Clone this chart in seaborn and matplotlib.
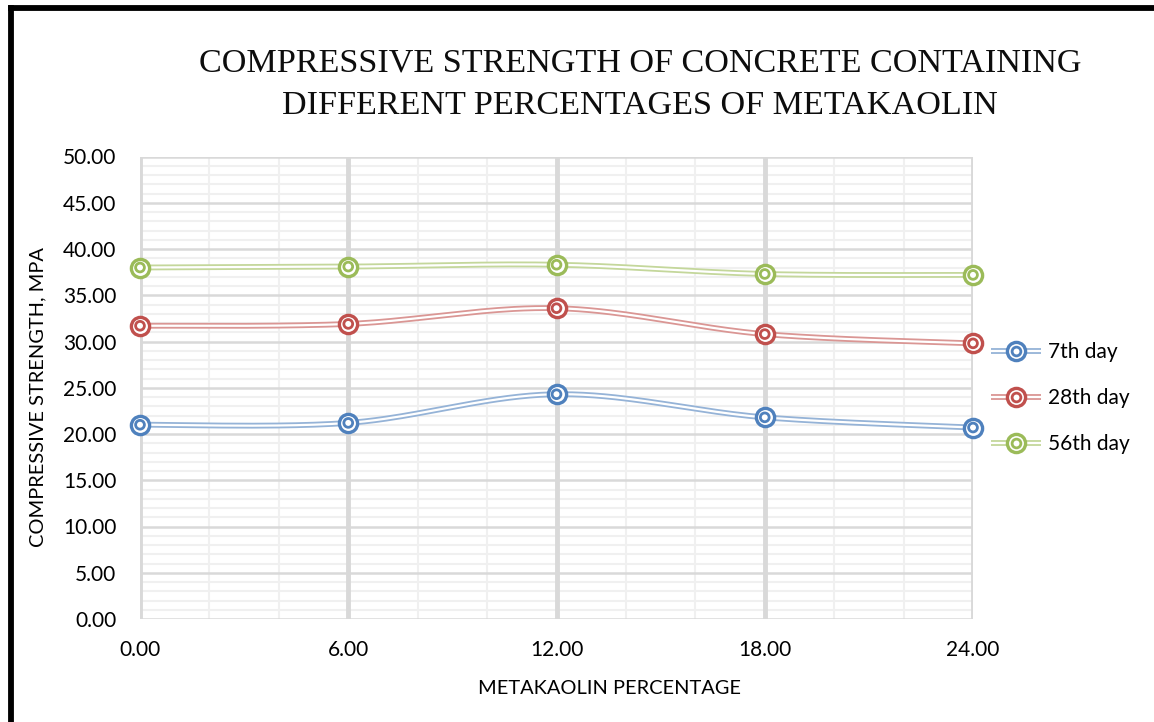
import numpy as np
import pandas as pd
import matplotlib
matplotlib.use("Agg")
import matplotlib.pyplot as plt
from matplotlib.lines import Line2D
from matplotlib.legend_handler import HandlerTuple
import seaborn as sns

# Metakaolin replacement (%) and compressive strength (MPa)
metakaolin = [0.0, 6.0, 12.0, 18.0, 24.0]
day7 = [21.0, 21.2, 24.3, 21.8, 20.7]
day28 = [31.7, 31.9, 33.6, 30.8, 29.8]
day56 = [38.0, 38.1, 38.3, 37.3, 37.2]
series_names = ["7th day", "28th day", "56th day"]
x_ticks = [0, 6, 12, 18, 24]
y_ticks = list(range(0, 51, 5))

marker_colors = ["#4F81BD", "#C0504D", "#9BBB59"]
line_colors = ["#95B3D7", "#DA9694", "#C4D79B"]

df = pd.DataFrame({
    "pct": metakaolin * 3,
    "strength": day7 + day28 + day56,
    "age": sum([[n] * len(metakaolin) for n in series_names], []),
})

sns.set_style("white")
plt.rcParams["font.family"] = ["Lato", "DejaVu Sans"]
plt.rcParams["text.color"] = "black"
plt.rcParams["axes.labelcolor"] = "black"


def smooth_curve(xs, ys, n=40):
    """Bezier smoothing through the points (Catmull-Rom style tangents)."""
    pts = np.column_stack([xs, ys]).astype(float)
    out = []
    for i in range(len(pts) - 1):
        p0 = pts[i - 1] if i > 0 else pts[i]
        p1 = pts[i]
        p2 = pts[i + 1]
        p3 = pts[i + 2] if i + 2 < len(pts) else pts[i + 1]
        c1 = p1 + (p2 - p0) / 6.0
        c2 = p2 - (p3 - p1) / 6.0
        t = np.linspace(0, 1, n)[:, None]
        seg = ((1 - t) ** 3) * p1 + 3 * ((1 - t) ** 2) * t * c1 + 3 * (1 - t) * t ** 2 * c2 + t ** 3 * p2
        out.append(seg if i == 0 else seg[1:])
    seg = np.vstack(out)
    return seg[:, 0], seg[:, 1]


fig = plt.figure(figsize=(11.54, 7.22), dpi=100)
ax = fig.add_axes([140 / 1154, 1 - 619 / 722, (973 - 140) / 1154, (619 - 156.5) / 722])

# outer frame on the left and top
fig.add_artist(Line2D([10.5 / 1154, 10.5 / 1154], [0, 1 - 8 / 722], color="black", lw=4.2,
                      transform=fig.transFigure, solid_capstyle="projecting"))
fig.add_artist(Line2D([10.5 / 1154, 1], [1 - 8 / 722, 1 - 8 / 722], color="black", lw=4.2,
                      transform=fig.transFigure, solid_capstyle="projecting"))

ax.set_xlim(0, 24)
ax.set_ylim(0, 50)

# grid
for v in np.arange(0, 51, 1):
    major = v % 5 == 0
    ax.axhline(v, color="#D9D9D9" if major else "#F0F0F0", lw=1.8 if major else 1.5, zorder=0.5 if major else 0.2)
for v in np.arange(0, 25, 2):
    major = v % 6 == 0
    ax.axvline(v, color="#D9D9D9" if major else "#F0F0F0", lw=3.5 if major else 1.5, zorder=0.6 if major else 0.3)

for s in ax.spines.values():
    s.set_visible(False)

handles = []
for name, lc, mc in zip(series_names, line_colors, marker_colors):
    sub = df[df["age"] == name]
    sx, sy = smooth_curve(sub["pct"].values, sub["strength"].values)
    ax.plot(sx, sy, color=lc, lw=4.2, solid_capstyle="butt", zorder=2)
    ax.plot(sx, sy, color="white", lw=1.6, solid_capstyle="butt", zorder=2.1)
    sns.scatterplot(data=sub, x="pct", y="strength", ax=ax, s=172, facecolor="white",
                    edgecolor=mc, linewidth=2.4, zorder=3, legend=False, clip_on=False)
    sns.scatterplot(data=sub, x="pct", y="strength", ax=ax, s=40, facecolor="none",
                    edgecolor=mc, linewidth=2.0, zorder=3.1, legend=False, clip_on=False)
    h = (
        Line2D([], [], color=lc, lw=4.2, solid_capstyle="butt"),
        Line2D([], [], color="white", lw=1.6, solid_capstyle="butt"),
        Line2D([], [], ls="none", marker="o", ms=13.1, mfc="white", mec=mc, mew=2.4),
        Line2D([], [], ls="none", marker="o", ms=6.3, mfc="none", mec=mc, mew=2.0),
    )
    handles.append(h)

ax.set_xticks(x_ticks)
ax.set_xticklabels([f"{v:.2f}" for v in x_ticks])
ax.set_yticks(y_ticks)
ax.set_yticklabels([f"{v:.2f}" for v in y_ticks])
ax.tick_params(axis="both", length=0, labelsize=15, colors="black")
ax.tick_params(axis="x", pad=15)
ax.tick_params(axis="y", pad=17)

ax.set_xlabel("METAKAOLIN PERCENTAGE", fontsize=14.4)
ax.xaxis.set_label_coords((610 - 140) / 833, -(688 - 619) / 462.5, transform=ax.transAxes)
ax.xaxis.label.set_va("center")
ax.set_ylabel("COMPRESSIVE STRENGTH, MPA", fontsize=14.4)
ax.yaxis.set_label_coords(-(140 - 38) / 833, (619 - 397) / 462.5, transform=ax.transAxes)
ax.yaxis.label.set_va("center")

# two-line title, placed line by line
title_lines = ["COMPRESSIVE STRENGTH OF CONCRETE CONTAINING", "DIFFERENT PERCENTAGES OF METAKAOLIN"]
for line, ypix in zip(title_lines, [63, 106]):
    fig.text(640 / 1154, 1 - ypix / 722, line, ha="center", va="center", fontsize=24.6,
             family=["Liberation Serif"], color="#0D0D0D")

fig.legend(handles, series_names, handler_map={tuple: HandlerTuple(ndivide=1)},
           loc="center left", bbox_to_anchor=(991 / 1154, 1 - 398 / 722), frameon=False,
           borderpad=0, borderaxespad=0, fontsize=15, handlelength=2.4, handletextpad=0.35,
           labelspacing=1.25)

fig.savefig("out.png", dpi=100, facecolor="white")
